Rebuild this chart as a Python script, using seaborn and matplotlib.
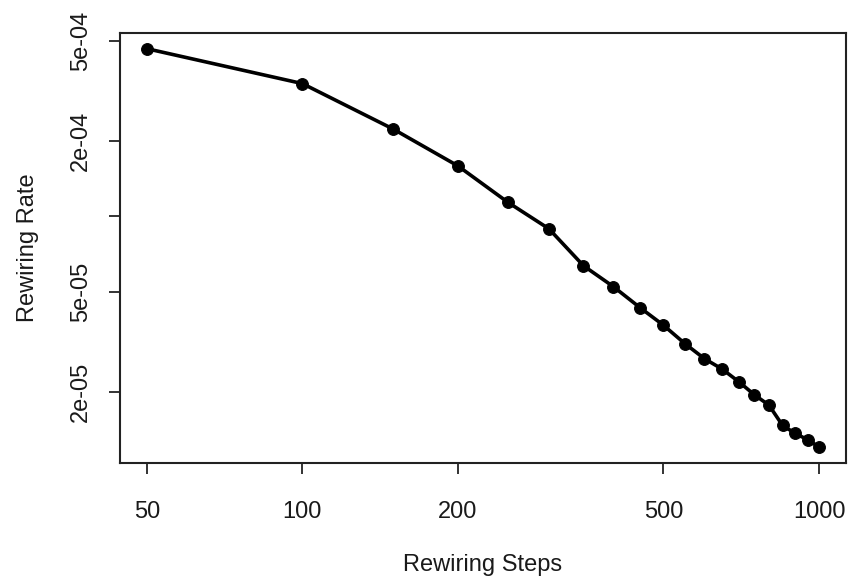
import numpy as np
import pandas as pd
import matplotlib
matplotlib.use("Agg")
import matplotlib.pyplot as plt
import seaborn as sns

# ─── Data ───────────────────────────────────────────────────────────────────
steps = [50, 100, 150, 200, 250, 300, 350, 400, 450, 500,
         550, 600, 650, 700, 750, 800, 850, 900, 950, 1000]
rates = [4.64e-4, 3.37e-4, 2.22e-4, 1.585e-4, 1.135e-4, 8.91e-5, 6.35e-5,
         5.24e-5, 4.33e-5, 3.68e-5, 3.11e-5, 2.71e-5, 2.46e-5, 2.19e-5,
         1.945e-5, 1.77e-5, 1.47e-5, 1.365e-5, 1.29e-5, 1.205e-5]

x_ticks = [50, 100, 200, 500, 1000]
x_tick_labels = ["50", "100", "200", "500", "1000"]
y_ticks = [2e-5, 5e-5, 1e-4, 2e-4, 5e-4]
y_tick_labels = ["2e-05", "5e-05", "", "2e-04", "5e-04"]

df = pd.DataFrame({"steps": steps, "rate": rates})

sns.set_style("ticks")
plt.rcParams["font.family"] = ["Liberation Sans", "DejaVu Sans"]


def r_limits(vals):
    """R-style 4% padding on a log axis."""
    lo, hi = np.log10(min(vals)), np.log10(max(vals))
    pad = (hi - lo) * 0.04
    return 10 ** (lo - pad), 10 ** (hi + pad)


fig = plt.figure(figsize=(8.51, 5.85), dpi=100)
ax = fig.add_axes([0.141, 0.2085, 0.853, 0.7355])

sns.lineplot(data=df, x="steps", y="rate", ax=ax, color="black",
             linewidth=2.6, marker="o", markersize=8.5,
             markeredgecolor="black", markerfacecolor="black")

ax.set_xscale("log")
ax.set_yscale("log")
ax.set_xlim(*r_limits(steps))
ax.set_ylim(*r_limits(rates))

ax.set_xticks(x_ticks)
ax.set_xticklabels(x_tick_labels)
ax.set_yticks(y_ticks)
ax.set_yticklabels(y_tick_labels, rotation=90, va="center")
ax.minorticks_off()

ax.tick_params(axis="both", which="major", bottom=True, left=True,
               direction="out", length=8, width=1.4,
               color="#333333", labelsize=17, labelcolor="#1a1a1a")
ax.tick_params(axis="x", pad=19)
ax.tick_params(axis="y", pad=12)

for sp in ax.spines.values():
    sp.set_visible(True)
    sp.set_linewidth(1.5)
    sp.set_color("#222222")

ax.set_xlabel("Rewiring Steps", fontsize=17, color="#1a1a1a")
ax.set_ylabel("Rewiring Rate", fontsize=17, color="#1a1a1a")
ax.xaxis.set_label_coords(0.5, -0.237)
ax.yaxis.set_label_coords(-0.127, 0.5)
ax.xaxis.label.set_va("center")
ax.yaxis.label.set_va("center")

fig.savefig("out.png", dpi=100, facecolor="white")
